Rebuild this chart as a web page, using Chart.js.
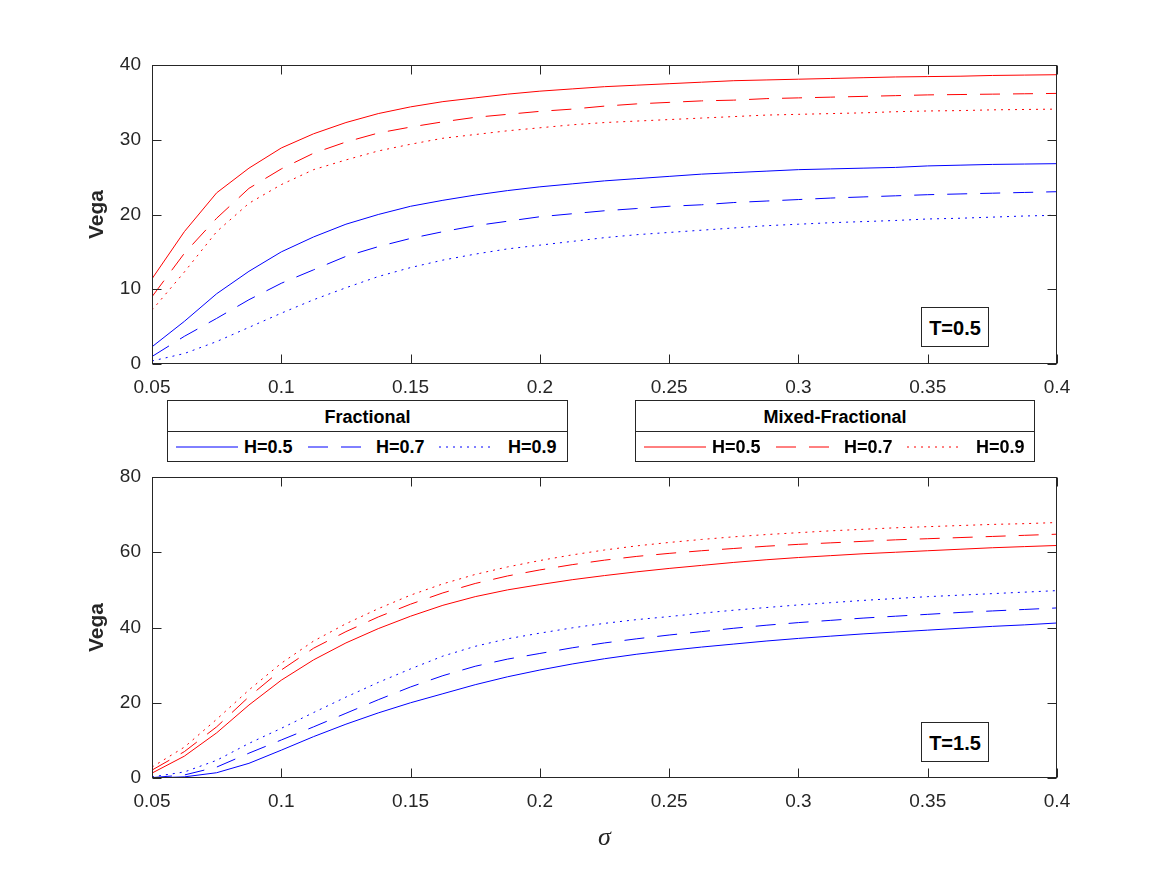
<!DOCTYPE html>
<html>
<head>
<meta charset="utf-8">
<script src="https://cdn.jsdelivr.net/npm/chart.js@4.4.1/dist/chart.umd.min.js"></script>
<style>
  body { margin: 0; background: #fff; width: 1167px; height: 875px; position: relative; overflow: hidden;
         font-family: "Liberation Sans", Arial, Helvetica, sans-serif; color: #000; }
  canvas { position: absolute; left: 0; }
  #vegaTop { top: 0; }
  #vegaBottom { top: 410px; }
  .legend { position: absolute; top: 400px; height: 62px; border: 1px solid #262626; background: #fff;
            box-sizing: border-box; z-index: 2; }
  .legend .title { position: absolute; left: 0; right: 0; top: 0; height: 30px; line-height: 32px;
                   text-align: center; font-weight: bold; font-size: 18px; border-bottom: 1px solid #262626; }
  .legend .item { position: absolute; top: 33px; height: 26px; line-height: 26px; font-weight: bold; font-size: 18px; }
  .legend svg { position: absolute; top: 45px; }
  .tag { position: absolute; left: 921px; width: 68px; height: 40px; border: 1px solid #262626; background: #fff;
         box-sizing: border-box; text-align: center; line-height: 40px; font-weight: bold; font-size: 20px; z-index: 2; }
</style>
</head>
<body>
<canvas id="vegaTop" width="1167" height="400"></canvas>
<canvas id="vegaBottom" width="1167" height="465"></canvas>

<div class="legend" id="legFrac" style="left:167px;width:401px"></div>
<div class="legend" id="legMixed" style="left:635px;width:400px"></div>
<div class="tag" style="top:307px">T=0.5</div>
<div class="tag" style="top:722px">T=1.5</div>

<script>
// volatility grid (sigma)
const sigma = [0.05, 0.0625, 0.075, 0.0875, 0.1, 0.1125, 0.125, 0.1375, 0.15, 0.1625, 0.175, 0.1875, 0.2, 0.2125,
  0.225, 0.2375, 0.25, 0.2625, 0.275, 0.2875, 0.3, 0.3125, 0.325, 0.3375, 0.35, 0.3625, 0.375, 0.3875, 0.4];

// T = 0.5
const fracH05_T05 = [2.3, 5.7, 9.4, 12.4, 15.0, 17.0, 18.7, 20.0, 21.1, 21.9, 22.6, 23.2, 23.7, 24.1, 24.5, 24.8,
  25.1, 25.4, 25.6, 25.8, 26.0, 26.1, 26.2, 26.3, 26.5, 26.6, 26.7, 26.75, 26.8];
const fracH07_T05 = [1.0, 3.7, 6.1, 8.6, 10.8, 12.6, 14.4, 15.7, 16.8, 17.7, 18.5, 19.1, 19.7, 20.1, 20.5, 20.8,
  21.1, 21.3, 21.6, 21.8, 22.0, 22.2, 22.35, 22.5, 22.65, 22.75, 22.85, 22.95, 23.05];
const fracH09_T05 = [0.4, 1.4, 3.0, 4.9, 6.8, 8.6, 10.2, 11.7, 12.9, 13.9, 14.7, 15.4, 15.9, 16.4, 16.9, 17.3,
  17.6, 17.9, 18.2, 18.5, 18.7, 18.9, 19.05, 19.2, 19.4, 19.5, 19.65, 19.8, 19.9];
const mixH05_T05 = [11.4, 17.7, 22.9, 26.2, 28.9, 30.8, 32.3, 33.5, 34.4, 35.1, 35.6, 36.1, 36.5, 36.8, 37.1, 37.3,
  37.5, 37.7, 37.9, 38.0, 38.1, 38.2, 38.3, 38.4, 38.45, 38.5, 38.6, 38.65, 38.7];
const mixH07_T05 = [9.0, 14.8, 19.5, 23.5, 26.1, 28.2, 29.7, 30.9, 31.7, 32.4, 33.0, 33.4, 33.8, 34.1, 34.5, 34.8,
  35.0, 35.2, 35.3, 35.5, 35.6, 35.7, 35.8, 35.9, 36.0, 36.05, 36.1, 36.15, 36.2];
const mixH09_T05 = [7.2, 12.3, 17.7, 21.5, 24.0, 26.0, 27.3, 28.5, 29.4, 30.2, 30.7, 31.2, 31.6, 32.0, 32.3, 32.5,
  32.7, 32.9, 33.1, 33.3, 33.4, 33.5, 33.6, 33.75, 33.85, 33.9, 34.0, 34.05, 34.1];

// T = 1.5
const fracH05_T15 = [0.0, 0.3, 1.4, 3.9, 7.4, 11.0, 14.3, 17.3, 20.0, 22.4, 24.8, 26.9, 28.7, 30.3, 31.7, 32.9,
  33.9, 34.8, 35.6, 36.4, 37.1, 37.7, 38.3, 38.8, 39.3, 39.8, 40.3, 40.7, 41.2];
const fracH07_T15 = [0.1, 0.8, 2.9, 6.6, 10.1, 13.6, 17.2, 20.8, 24.2, 27.2, 29.7, 31.6, 33.1, 34.6, 35.9, 37.0,
  38.0, 38.9, 39.8, 40.6, 41.3, 41.9, 42.5, 43.0, 43.5, 44.0, 44.4, 44.8, 45.2];
const fracH09_T15 = [0.3, 1.6, 4.7, 9.2, 13.2, 17.4, 21.5, 25.4, 29.0, 32.4, 35.0, 37.0, 38.5, 39.9, 41.1, 42.1,
  42.9, 43.8, 44.6, 45.3, 46.0, 46.6, 47.2, 47.7, 48.2, 48.6, 49.0, 49.4, 49.8];
const mixH05_T15 = [1.3, 5.8, 12.0, 19.4, 26.0, 31.4, 35.9, 39.7, 43.0, 45.9, 48.2, 50.0, 51.4, 52.7, 53.8, 54.8,
  55.7, 56.5, 57.3, 58.0, 58.6, 59.1, 59.6, 60.0, 60.4, 60.8, 61.2, 61.5, 61.8];
const mixH07_T15 = [2.1, 7.0, 13.6, 21.6, 28.7, 34.5, 38.9, 42.8, 46.2, 49.2, 51.7, 53.7, 55.3, 56.7, 57.9, 58.9,
  59.7, 60.4, 61.0, 61.6, 62.1, 62.5, 62.9, 63.3, 63.6, 63.9, 64.2, 64.5, 64.8];
const mixH09_T15 = [2.9, 8.2, 15.6, 23.4, 30.5, 36.4, 41.0, 45.0, 48.6, 51.6, 54.1, 56.1, 57.8, 59.3, 60.6, 61.7,
  62.6, 63.4, 64.1, 64.7, 65.2, 65.7, 66.1, 66.5, 66.8, 67.1, 67.4, 67.6, 67.9];

// ticks
const xTicks = [0.05, 0.1, 0.15, 0.2, 0.25, 0.3, 0.35, 0.4];
const xTickLabels = ['0.05', '0.1', '0.15', '0.2', '0.25', '0.3', '0.35', '0.4'];
const yTicksTop = [0, 10, 20, 30, 40];
const yTicksBottom = [0, 20, 40, 60, 80];
const hLabels = ['H=0.5', 'H=0.7', 'H=0.9'];

const BLUE = '#0000ff';
const RED = '#ff0000';
const AXIS = '#262626';
const dashes = [[], [20, 13], [2, 5]];

// MATLAB style box with inward ticks on all four sides
const boxPlugin = {
  id: 'matlabBox',
  afterDatasetsDraw(chart) {
    const { ctx, chartArea: a, scales: { x, y } } = chart;
    const L = Math.round(a.left) + 0.5, R = Math.round(a.right) - 0.5;
    const T = Math.round(a.top) + 0.5, B = Math.round(a.bottom) - 0.5;
    ctx.save();
    ctx.strokeStyle = AXIS;
    ctx.lineWidth = 1;
    ctx.setLineDash([]);
    ctx.strokeRect(L, T, R - L, B - T);
    ctx.beginPath();
    x.ticks.forEach(t => {
      const px = Math.round(x.getPixelForValue(t.value)) + 0.5;
      ctx.moveTo(px, B); ctx.lineTo(px, B - 9);
      ctx.moveTo(px, T); ctx.lineTo(px, T + 9);
    });
    y.ticks.forEach(t => {
      const py = Math.round(y.getPixelForValue(t.value)) + 0.5;
      ctx.moveTo(L, py); ctx.lineTo(L + 9, py);
      ctx.moveTo(R, py); ctx.lineTo(R - 9, py);
    });
    ctx.stroke();
    ctx.restore();
  }
};

function series(values, color, i) {
  return {
    data: sigma.map((s, k) => ({ x: s, y: values[k] })),
    borderColor: color,
    borderWidth: 1,
    borderDash: dashes[i],
    pointRadius: 0,
    tension: 0,
    fill: false
  };
}

function makeChart(id, frac, mixed, yTicks, padTop, xHeight, showSigma) {
  const ctx = document.getElementById(id).getContext('2d');
  return new Chart(ctx, {
    type: 'line',
    data: {
      datasets: [
        ...frac.map((v, i) => series(v, BLUE, i)),
        ...mixed.map((v, i) => series(v, RED, i))
      ]
    },
    options: {
      responsive: false,
      animation: false,
      layout: { padding: { left: 0, right: 110, top: padTop, bottom: 0 } },
      plugins: { legend: { display: false }, tooltip: { enabled: false } },
      scales: {
        x: {
          type: 'linear',
          min: 0.05, max: 0.4,
          afterBuildTicks: s => { s.ticks = xTicks.map(v => ({ value: v })); },
          afterFit: s => { s.height = xHeight; },
          grid: { display: false, drawTicks: false },
          border: { display: false },
          ticks: {
            autoSkip: false, maxRotation: 0, padding: 12, color: AXIS,
            font: { family: '"Liberation Sans", Arial, sans-serif', size: 19 },
            callback: (v, i) => xTickLabels[i]
          },
          title: {
            display: showSigma, text: 'σ', color: AXIS,
            font: { family: '"Liberation Serif", "Times New Roman", serif', size: 26, style: 'italic' },
            padding: { top: 0, bottom: 21 }
          }
        },
        y: {
          min: yTicks[0], max: yTicks[yTicks.length - 1],
          afterBuildTicks: s => { s.ticks = yTicks.map(v => ({ value: v })); },
          afterFit: s => { s.width = 152; },
          grid: { display: false, drawTicks: false },
          border: { display: false },
          ticks: {
            padding: 11, color: AXIS,
            font: { family: '"Liberation Sans", Arial, sans-serif', size: 19 }
          },
          title: {
            display: true, text: 'Vega', color: AXIS,
            font: { family: '"Liberation Sans", Arial, sans-serif', size: 21, weight: 'bold' },
            padding: { top: 85, bottom: 0 }
          }
        }
      }
    },
    plugins: [boxPlugin]
  });
}

makeChart('vegaTop', [fracH05_T05, fracH07_T05, fracH09_T05], [mixH05_T05, mixH07_T05, mixH09_T05],
  yTicksTop, 65, 36, false);
makeChart('vegaBottom', [fracH05_T15, fracH07_T15, fracH09_T15], [mixH05_T15, mixH07_T15, mixH09_T15],
  yTicksBottom, 67, 97, true);

// legend boxes
function buildLegend(id, title, color) {
  const box = document.getElementById(id);
  const t = document.createElement('div');
  t.className = 'title';
  t.textContent = title;
  box.appendChild(t);
  const lineX = [8, 140, 271];
  const textX = [76, 208, 340];
  hLabels.forEach((lab, i) => {
    const w = i === 0 ? 62 : 54;
    const svg = document.createElementNS('http://www.w3.org/2000/svg', 'svg');
    svg.setAttribute('width', w);
    svg.setAttribute('height', 2);
    svg.style.left = lineX[i] + 'px';
    const ln = document.createElementNS('http://www.w3.org/2000/svg', 'line');
    ln.setAttribute('x1', 0); ln.setAttribute('x2', w);
    ln.setAttribute('y1', 1); ln.setAttribute('y2', 1);
    ln.setAttribute('stroke', color);
    ln.setAttribute('stroke-width', 1);
    if (dashes[i].length) ln.setAttribute('stroke-dasharray', dashes[i].join(' '));
    svg.appendChild(ln);
    box.appendChild(svg);
    const txt = document.createElement('div');
    txt.className = 'item';
    txt.style.left = textX[i] + 'px';
    txt.textContent = lab;
    box.appendChild(txt);
  });
}
buildLegend('legFrac', 'Fractional', BLUE);
buildLegend('legMixed', 'Mixed-Fractional', RED);
</script>
</body>
</html>
